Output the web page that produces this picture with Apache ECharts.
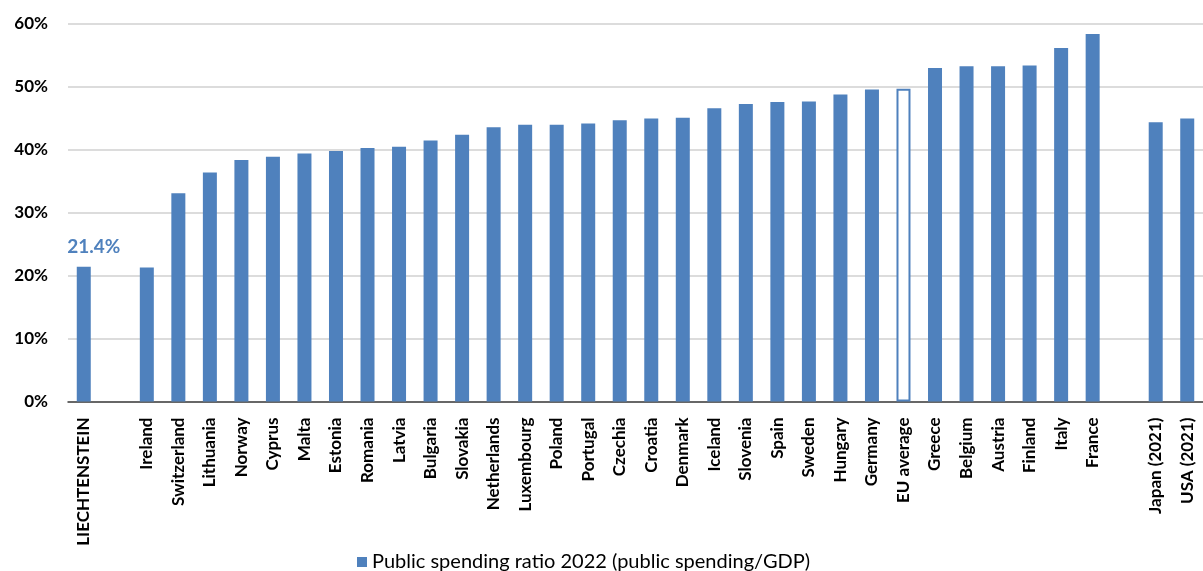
<!DOCTYPE html>
<html>
<head>
<meta charset="utf-8">
<script src="https://cdn.jsdelivr.net/npm/echarts@6/dist/echarts.min.js"></script>
<style>
html,body{margin:0;padding:0;background:#fff;}
#chart{width:1203px;height:571px;}
</style>
</head>
<body>
<div id="chart"></div>
<script>
const categories = ["LIECHTENSTEIN","","Ireland","Switzerland","Lithuania","Norway","Cyprus","Malta","Estonia","Romania","Latvia","Bulgaria","Slovakia","Netherlands","Luxembourg","Poland","Portugal","Czechia","Croatia","Denmark","Iceland","Slovenia","Spain","Sweden","Hungary","Germany","EU average","Greece","Belgium","Austria","Finland","Italy","France"," ","Japan (2021)","USA (2021)"];
const values = [21.4,null,21.3,33.1,36.4,38.4,38.9,39.4,39.8,40.3,40.5,41.5,42.4,43.6,44.0,44.0,44.2,44.7,45.0,45.1,46.6,47.3,47.6,47.7,48.8,49.6,49.7,53.0,53.3,53.3,53.4,56.2,58.4,null,44.4,45.0];
const yTicks = [0,10,20,30,40,50,60];
const seriesName = "Public spending ratio 2022 (public spending/GDP)";
const highlightCategory = "EU average";
const labelledCategory = "LIECHTENSTEIN";

const BLUE = "#4f81bd";
const FONT = "Lato";

const data = values.map((v, i) => {
  const d = { value: v };
  if (categories[i] === highlightCategory) {
    d.itemStyle = { color: "#ffffff", borderColor: BLUE, borderWidth: 2 };
  }
  if (categories[i] === labelledCategory) {
    d.label = {
      show: true, position: "top", offset: [10, -5],
      formatter: p => p.value.toFixed(1) + "%",
      color: BLUE, fontFamily: FONT, fontWeight: "bold", fontSize: 19
    };
  }
  return d;
});

const chart = echarts.init(document.getElementById("chart"));
chart.setOption({
  animation: false,
  grid: { left: 68, right: -10, top: 24, bottom: 169.5, containLabel: false },
  legend: {
    data: [seriesName],
    bottom: -6, left: 352,
    icon: "rect", itemWidth: 10, itemHeight: 10, itemGap: 8,
    textStyle: { fontFamily: FONT, fontSize: 20, color: "#000" }
  },
  xAxis: {
    type: "category",
    data: categories,
    axisTick: { show: false },
    axisLine: { lineStyle: { color: "#404040", width: 1.5 } },
    axisLabel: {
      interval: 0, rotate: 90, margin: 16,
      fontFamily: FONT, fontWeight: "bold", fontSize: 17, color: "#000"
    }
  },
  yAxis: {
    type: "value",
    min: yTicks[0], max: yTicks[yTicks.length - 1], interval: 10,
    axisLine: { show: false },
    axisTick: { show: false },
    splitLine: { lineStyle: { color: "#d0d0d0", width: 1.5 } },
    axisLabel: {
      formatter: v => v + "%", margin: 20,
      fontFamily: FONT, fontWeight: "bold", fontSize: 17, color: "#000"
    }
  },
  series: [{
    name: seriesName,
    type: "bar",
    data: data,
    barWidth: 14,
    itemStyle: { color: BLUE }
  }]
});
</script>
</body>
</html>
